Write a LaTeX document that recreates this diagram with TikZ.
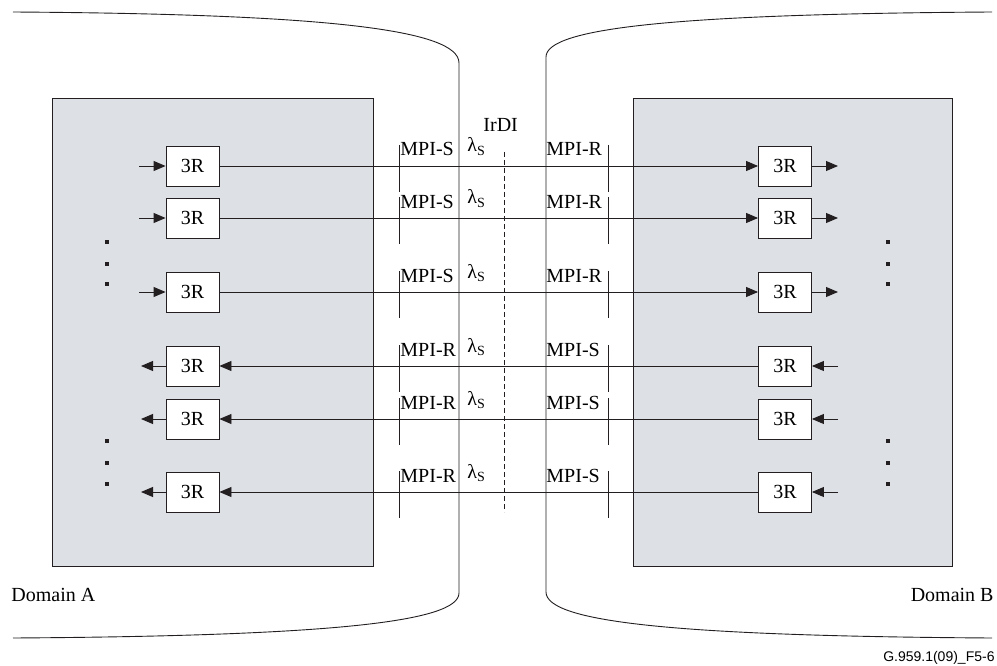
\documentclass[tikz,border=0pt]{standalone}
\usepackage{fontspec}
\setmainfont{Liberation Serif}
\newfontfamily\footfont{Liberation Sans}
\usetikzlibrary{arrows.meta}
\definecolor{domaingray}{RGB}{221,224,229}
\definecolor{linegray}{RGB}{35,31,32}
\tikzset{%
	regen box/.style={
		draw=linegray,
		fill=white,
		minimum width=53pt,
		minimum height=40pt,
		inner sep=0pt,
		font=\fontsize{20}{22}\selectfont
	},
	mpi label/.style={
		anchor=base west,
		inner sep=0pt,
		font=\fontsize{20}{22}\selectfont
	},
	sig arrow/.style={
		draw=linegray,
		-{Triangle[length=12pt, width=10pt]}
	},
}

\begin{document}
\begin{tikzpicture}[x=1pt, y=-1pt, line width=0.9pt, draw=linegray]
			\useasboundingbox (0,0) rectangle (997,666);
			
			% Domain outlines
			\draw (13,12) .. controls (330,14) and (459,30) .. (459,63) -- (459,593)
				.. controls (459,622) and (330,636) .. (13,638);
			\draw (992,12) .. controls (675,14) and (546,28) .. (546,57) -- (546,592)
				.. controls (546,622) and (675,636) .. (992,638);
			
			% Grey network elements
			\filldraw[fill=domaingray] (52,98) rectangle (373,566);
			\filldraw[fill=domaingray] (633,98) rectangle (952,566);
			
			% IrDI
			\draw[dashed, dash pattern=on 5pt off 3pt, line width=0.6pt] (504,152) -- (504,512);
			\node[mpi label] (irdi) at (483,132) {IrDI};
			
			% A to B
			\foreach \i/\y in {1/166, 2/218, 3/292} {
				\node[regen box] (a\i) at (192.5,\y) {3R};
				\node[regen box] (b\i) at (785,\y) {3R};
				\coordinate (ain\i) at (139,\y);
				\coordinate (bout\i) at (838,\y);
				\draw[sig arrow] (ain\i) -- (a\i);
				\draw[sig arrow] (a\i) -- (b\i);
				\draw[sig arrow] (b\i) -- (bout\i);
				\draw (399,\y-21) -- (399,\y+26);
				\draw (608,\y-21) -- (608,\y+26);
				\node[mpi label] (sa\i) at (400,\y-10) {MPI-S};
				\node[mpi label] (rb\i) at (546,\y-10) {MPI-R};
				\node[mpi label] (la\i) at (467,\y-14) {λ\textsubscript{S}};
			}
			
			% B to A
			\foreach \i/\y in {4/366, 5/419, 6/492} {
				\node[regen box] (a\i) at (192.5,\y) {3R};
				\node[regen box] (b\i) at (785,\y) {3R};
				\coordinate (aout\i) at (141,\y);
				\coordinate (bin\i) at (838,\y);
				\draw[sig arrow] (bin\i) -- (b\i);
				\draw[sig arrow] (b\i) -- (a\i);
				\draw[sig arrow] (a\i) -- (aout\i);
				\draw (399,\y-21) -- (399,\y+26);
				\draw (608,\y-21) -- (608,\y+26);
				\node[mpi label] (ra\i) at (400,\y-10) {MPI-R};
				\node[mpi label] (sb\i) at (546,\y-10) {MPI-S};
				\node[mpi label] (la\i) at (467,\y-14) {λ\textsubscript{S}};
			}
			
			% Dots
			\foreach \x in {107, 888}
				\foreach \y in {242, 264, 284, 441, 463, 484}
					\fill[linegray] (\x-1.6,\y-1.6) rectangle (\x+1.6,\y+1.6);
			
			% Labels
			\node[mpi label] (doma) at (11,601) {Domain A};
			\node[mpi label, anchor=base east] (domb) at (994,601) {Domain B};
			\node[anchor=east, inner sep=0pt, font=\footfont\fontsize{14}{16}\selectfont] (fig) at (995,658) {G.959.1(09)\_F5-6};
			
		\end{tikzpicture}
\end{document}
